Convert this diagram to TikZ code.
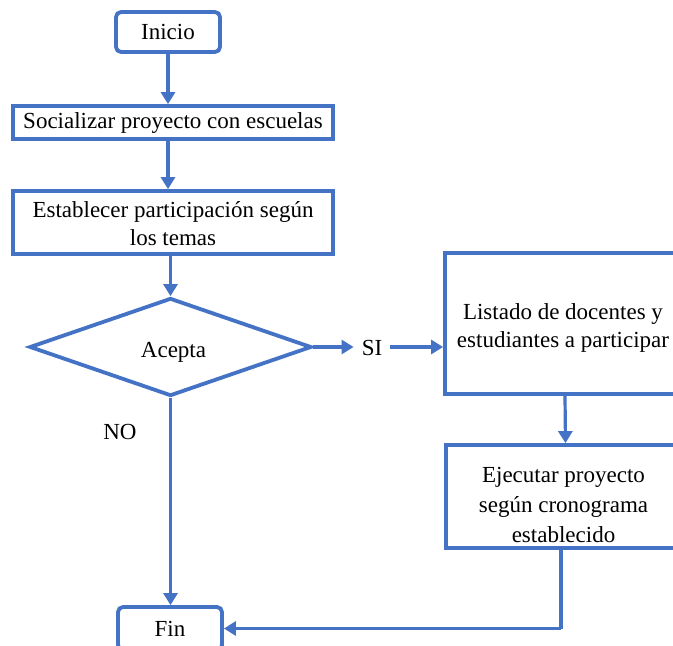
\documentclass[tikz,border=0pt]{standalone}
\usepackage{fontspec}
\setmainfont{Liberation Serif}
\newfontfamily\flowfont{Liberation Serif}
\usetikzlibrary{arrows.meta,shapes.geometric}
\definecolor{flowblue}{HTML}{4472C4}
\begin{document}
\begin{tikzpicture}[x=1pt,y=-1pt,
  every node/.style={font=\flowfont\fontsize{23}{28}\selectfont, text=black, inner sep=0pt},
  box/.style={draw=flowblue, line width=3.8pt, fill=white, align=center},
  term/.style={box, rounded corners=5pt},
  conn/.style={draw=flowblue, line width=3.2pt, -{Triangle[length=12pt,width=14pt]}},
  link/.style={draw=flowblue, line width=3.2pt}]
\useasboundingbox (0,0) rectangle (673,646);

% process nodes
\node[term, minimum width=104pt, minimum height=40pt] (inicio) at (168,32) {Inicio};
\node[box, minimum width=320pt, minimum height=33pt] (soc) at (173,122.5) {Socializar proyecto con escuelas};
\node[box, minimum width=320pt, minimum height=63pt] (est) at (173,222.5) {\rule{0pt}{19pt}Establecer participación según\\los temas};
\node[box, shape=diamond, aspect=2.88, minimum width=282pt, minimum height=98pt,
      text height=26pt, text depth=5pt] (dec) at (170.5,347) {\hspace*{6pt}Acepta};
\node (si) at (372,348) {SI};
\node (no) at (120,432) {NO};
\node[box, minimum width=236pt, minimum height=141pt] (lista) at (563,323.5) {\rule{0pt}{25pt}Listado de docentes y\\estudiantes a participar};
\node[box, minimum width=235pt, minimum height=103pt,
      font=\flowfont\fontsize{23}{30}\selectfont] (ejec) at (563.5,496.5) {\rule{0pt}{33pt}Ejecutar proyecto\\según cronograma\\establecido};
\node[term, minimum width=104pt, minimum height=43pt] (fin) at (170,628.5) {Fin};
\coordinate (bend) at (561,628.5);

% connectors
\draw[conn] (inicio.south) -- (soc.north -| inicio.south);
\draw[conn] (soc.south -| inicio.south) -- (est.north -| inicio.south);
\draw[conn] (est.south -| dec.north) -- (dec.north);
\draw[conn] (dec.east) -- ([xshift=-8pt]si.west |- dec.east);
\draw[conn] ([xshift=8pt]si.east |- dec.east) -- (dec.east -| lista.west);
\draw[conn] ([xshift=2pt]lista.south) -- ([xshift=2pt]ejec.north);
\draw[conn] (dec.south) -- (fin.north -| dec.south);
\draw[link] (ejec.south -| bend) -- (bend);
\draw[conn] (bend) -- (fin.east);
\end{tikzpicture}
\end{document}
